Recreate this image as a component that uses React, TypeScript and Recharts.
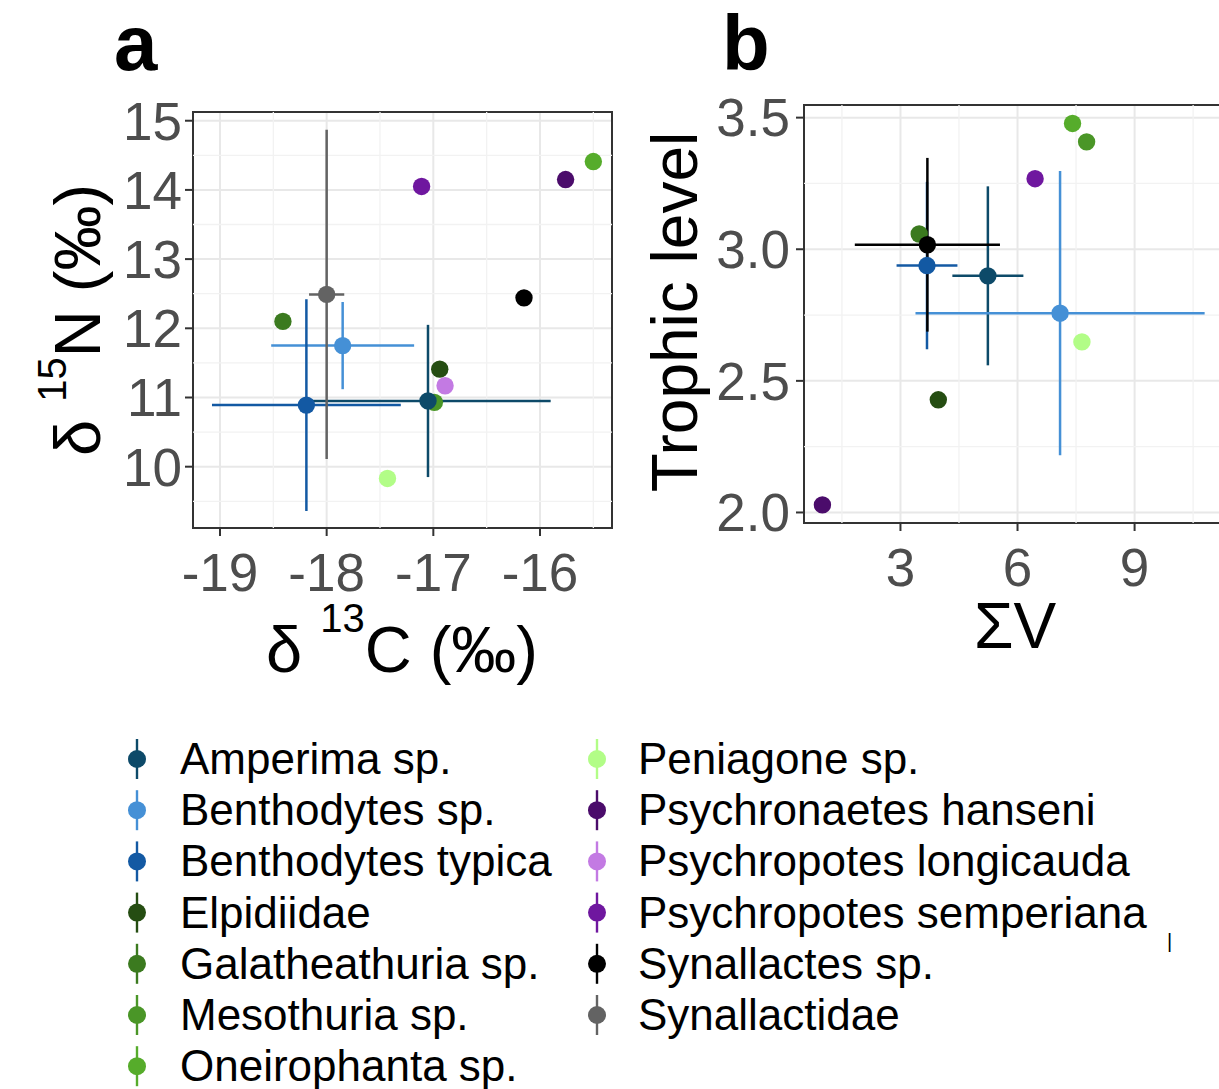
import React from 'react';
import { ScatterChart, Scatter, XAxis, YAxis, CartesianGrid, ErrorBar, ReferenceLine, ReferenceArea } from 'recharts';

const FONT = '"Liberation Sans", Arial, Helvetica, sans-serif';

const species = [
  'Amperima sp.', 'Benthodytes sp.', 'Benthodytes typica', 'Elpidiidae', 'Galatheathuria sp.',
  'Mesothuria sp.', 'Oneirophanta sp.', 'Peniagone sp.', 'Psychronaetes hanseni',
  'Psychropotes longicauda', 'Psychropotes semperiana', 'Synallactes sp.', 'Synallactidae',
];
const colors = [
  '#0d4a69', '#4590d6', '#1359a3', '#254d12', '#3b7a1f', '#4a9627', '#56ac2b',
  '#b2fd87', '#4b0c6b', '#c37ae3', '#6f179f', '#000000', '#636363',
];

// Panel a: d13C (x) vs d15N (y)
const aX = [-17.05, -17.85, -18.19, -16.94, -18.41, -16.99, -15.50, -17.43, -15.76, -16.89, -17.11, -16.15, -18.00];
const aY = [10.95, 11.75, 10.89, 11.41, 12.10, 10.93, 14.41, 9.83, 14.15, 11.17, 14.05, 12.44, 12.49];
const aXsd = [1.15, 0.67, 0.885, null, null, null, null, null, null, null, null, null, 0.165];
const aYsd = [1.10, 0.63, 1.53, null, null, null, null, null, null, null, null, null, 2.38];

// Panel b: sum V (x) vs trophic level (y)
const bX = [5.24, 7.09, 3.68, 3.97, 3.48, 7.77, 7.41, 7.65, 1.00, null, 6.45, 3.69, null];
const bY = [2.899, 2.757, 2.938, 2.428, 3.058, 3.408, 3.478, 2.648, 2.029, null, 3.268, 3.017, null];
const bXsd = [0.91, 3.705, 0.78, null, null, null, null, null, null, null, null, 1.86, null];
const bYsd = [0.34, 0.54, 0.318, null, null, null, null, null, null, null, null, 0.33, null];

const aXDomain = [-19.253, -15.325];
const aYDomain = [9.114, 15.126];
const aXTicks = [-19, -18, -17, -16];
const aYTicks = [10, 11, 12, 13, 14, 15];
const aXMinor = [-18.5, -17.5, -16.5, -15.5];
const aYMinor = [9.5, 10.5, 11.5, 12.5, 13.5, 14.5];

const bXDomain = [0.528, 11.24];
const bYDomain = [1.96, 3.548];
const bXTicks = [3, 6, 9];
const bYTicks = [2.0, 2.5, 3.0, 3.5];
const bXMinor = [1.5, 4.5, 7.5, 10.5];
const bYMinor = [2.25, 2.75, 3.25];

const tickStyle = { fill: '#4d4d4d', fontSize: 53, fontFamily: FONT };
const tickLineStyle = { stroke: '#333333', strokeWidth: 2 };

type PanelProps = {
  xs: (number | null)[]; ys: (number | null)[]; xsd: (number | null)[]; ysd: (number | null)[];
  xDomain: number[]; yDomain: number[]; xTicks: number[]; yTicks: number[];
  xMinor: number[]; yMinor: number[];
  width: number; height: number; margin: any; yAxisWidth: number; xAxisHeight: number;
  yFmt?: (v: number) => string; yTickMargin: number;
};

function Panel(p: PanelProps) {
  const idx = species.map((_, i) => i).filter((i) => p.xs[i] != null);
  const hasErr = (i: number) => p.xsd[i] != null || p.ysd[i] != null;
  const withErr = idx.filter(hasErr);
  const noErr = idx.filter((i) => !hasErr(i));
  const row = (i: number) => [{ x: p.xs[i], y: p.ys[i], xsd: p.xsd[i] ?? 0, ysd: p.ysd[i] ?? 0 }];
  return (
    <ScatterChart width={p.width} height={p.height} margin={p.margin}>
      {p.xMinor.map((v) => (
        <ReferenceLine key={'mx' + v} x={v} stroke="#f2f2f2" strokeWidth={1.3} />
      ))}
      {p.yMinor.map((v) => (
        <ReferenceLine key={'my' + v} y={v} stroke="#f2f2f2" strokeWidth={1.3} />
      ))}
      <CartesianGrid stroke="#e8e8e8" strokeWidth={2} />
      <XAxis
        type="number" dataKey="x" domain={p.xDomain} allowDataOverflow ticks={p.xTicks} interval={0}
        height={p.xAxisHeight} tick={tickStyle} tickLine={tickLineStyle} tickSize={8} tickMargin={17}
        axisLine={false}
      />
      <YAxis
        type="number" dataKey="y" domain={p.yDomain} allowDataOverflow ticks={p.yTicks} interval={0}
        width={p.yAxisWidth} tick={tickStyle} tickLine={tickLineStyle} tickSize={8} tickMargin={p.yTickMargin}
        axisLine={false} tickFormatter={p.yFmt}
      />
      {withErr.map((i) => (
        <Scatter key={'e' + i} data={row(i)} isAnimationActive={false} shape={() => <g />}>
          {p.xsd[i] != null && (
            <ErrorBar dataKey="xsd" direction="x" width={0} stroke={colors[i]} strokeWidth={2.5} isAnimationActive={false} />
          )}
          {p.ysd[i] != null && (
            <ErrorBar dataKey="ysd" direction="y" width={0} stroke={colors[i]} strokeWidth={2.5} isAnimationActive={false} />
          )}
        </Scatter>
      ))}
      {[...noErr, ...withErr].map((i) => (
        <Scatter
          key={'p' + i}
          data={row(i)}
          isAnimationActive={false}
          fill={colors[i]}
          shape={(s: any) => <circle cx={s.cx} cy={s.cy} r={8.7} fill={colors[i]} />}
        />
      ))}
      <ReferenceArea
        x1={p.xDomain[0]} x2={p.xDomain[1]} y1={p.yDomain[0]} y2={p.yDomain[1]}
        fill="none" fillOpacity={0} stroke="#333333" strokeWidth={2} ifOverflow="visible"
      />
    </ScatterChart>
  );
}

function Legend() {
  const rowH = 51.2;
  return (
    <g>
      {species.map((s, i) => {
        const col = i < 7 ? 0 : 1;
        const r = i < 7 ? i : i - 7;
        const cx = col ? 597 : 137;
        const cy = 759 + r * rowH;
        return (
          <g key={s}>
            <line x1={cx} x2={cx} y1={cy - 20} y2={cy + 20} stroke={colors[i]} strokeWidth={2.4} />
            <circle cx={cx} cy={cy} r={9} fill={colors[i]} />
            <text x={col ? 638 : 180} y={cy + 15} fontSize={44} fill="#000" fontFamily={FONT}>{s}</text>
          </g>
        );
      })}
    </g>
  );
}

export default function App() {
  return (
    <div style={{ position: 'absolute', left: 0, top: 0, width: 1219, height: 1089, overflow: 'hidden', background: '#fff' }}>
      <div style={{ position: 'absolute', left: 0, top: 0 }}>
        <Panel
          xs={aX} ys={aY} xsd={aXsd} ysd={aYsd}
          xDomain={aXDomain} yDomain={aYDomain} xTicks={aXTicks} yTicks={aYTicks}
          xMinor={aXMinor} yMinor={aYMinor}
          width={620} height={640} margin={{ top: 112, right: 8, bottom: 0, left: 0 }}
          yAxisWidth={193} xAxisHeight={112} yTickMargin={3}
        />
      </div>
      <div style={{ position: 'absolute', left: 620, top: 0 }}>
        <Panel
          xs={bX} ys={bY} xsd={bXsd} ysd={bYsd}
          xDomain={bXDomain} yDomain={bYDomain} xTicks={bXTicks} yTicks={bYTicks}
          xMinor={bXMinor} yMinor={bYMinor}
          width={602} height={640} margin={{ top: 105, right: 0, bottom: 0, left: 0 }}
          yAxisWidth={184} xAxisHeight={117} yTickMargin={6}
          yFmt={(v: number) => v.toFixed(1)}
        />
      </div>
      <svg style={{ position: 'absolute', left: 0, top: 0 }} width={1219} height={1089} fontFamily={FONT}>
        <text x={114} y={70} fontSize={78} fontWeight="bold" fill="#000">a</text>
        <text x={722} y={70} fontSize={78} fontWeight="bold" fill="#000">b</text>
        <text x={402} y={672} fontSize={65} textAnchor="middle" fill="#000">
          {'δ '}<tspan fontSize={40} dy={-40}>13</tspan><tspan dy={40}>{'C (‰)'}</tspan>
        </text>
        <text x={-320} y={100} transform="rotate(-90)" fontSize={65} textAnchor="middle" fill="#000">
          {'δ '}<tspan fontSize={40} dy={-34}>15</tspan><tspan dy={34}>{'N (‰)'}</tspan>
        </text>
        <text x={-312} y={697} transform="rotate(-90)" fontSize={64} textAnchor="middle" fill="#000">Trophic level</text>
        <text x={1015} y={648} fontSize={64} textAnchor="middle" fill="#000">ΣV</text>
        <Legend />
        <text x={1167} y={948} fontSize={20} fill="#000">|</text>
      </svg>
    </div>
  );
}
